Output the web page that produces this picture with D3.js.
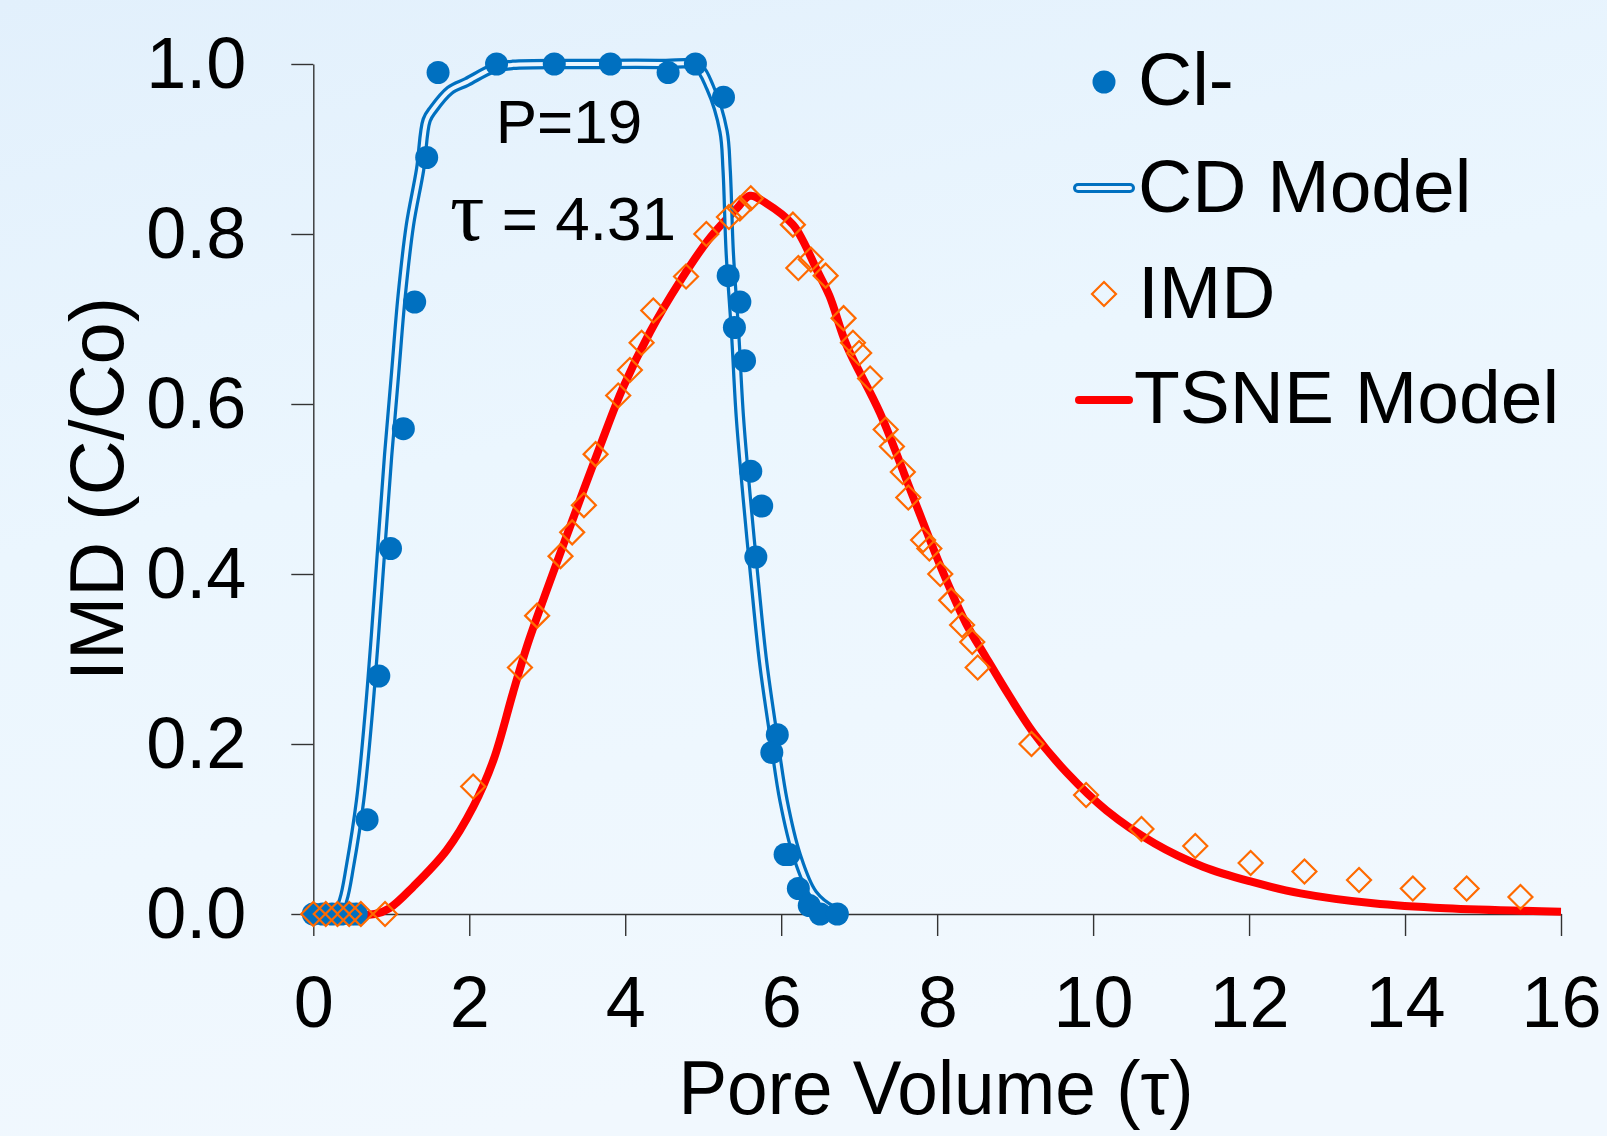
<!DOCTYPE html>
<html>
<head>
<meta charset="utf-8">
<script src="https://cdn.jsdelivr.net/npm/d3@7"></script>
<style>
  html, body { margin: 0; padding: 0; background: #eef7fe; }
  svg { display: block; }
  text { font-family: Arial, "Liberation Sans", sans-serif; fill: #000; }
</style>
</head>
<body>
<div id="chart"></div>
<script>
// Cl- measured concentrations
const clX = [0, 0.12, 0.24, 0.36, 0.48, 0.55, 0.69, 0.84, 0.99, 1.155, 1.30, 1.454, 1.60, 2.35, 3.09, 3.81, 4.55, 4.90,
  5.26, 5.32, 5.47, 5.40, 5.53, 5.61, 5.75, 5.675, 5.95, 5.88, 6.05, 6.10, 6.22, 6.36, 6.50, 6.72];
const clY = [0, 0, 0, 0, 0, 0, 0.111, 0.28, 0.43, 0.571, 0.72, 0.89, 0.99, 1.0, 1.0, 1.0, 0.99, 1.0,
  0.961, 0.751, 0.72, 0.69, 0.651, 0.521, 0.48, 0.42, 0.211, 0.19, 0.07, 0.07, 0.03, 0.01, 0, 0];

// CD model curve
const cdX = [0, 0.30, 0.385, 0.47, 0.60, 0.705, 0.79, 0.877, 0.96, 1.05, 1.133, 1.24, 1.37, 1.454, 1.54, 1.75, 1.97, 2.31, 2.56, 3.5, 4.5, 4.915,
  5.09, 5.26, 5.30, 5.34, 5.41, 5.47, 5.56, 5.66, 5.77, 5.90, 6.03, 6.20, 6.41, 6.67, 6.84];
const cdY = [0, 0, 0.017, 0.056, 0.1335, 0.23, 0.327, 0.437, 0.54, 0.637, 0.727, 0.811, 0.876, 0.934, 0.947, 0.969, 0.979, 0.995, 0.999, 1.0, 1.0, 0.998,
  0.972, 0.921, 0.876, 0.779, 0.682, 0.585, 0.488, 0.392, 0.295, 0.211, 0.1335, 0.069, 0.024, 0.0045, 0];

// IMD measured
const imdX = [0, 0.16, 0.31, 0.46, 0.61, 0.92, 2.05, 2.65, 2.87, 3.17, 3.32, 3.47, 3.62, 3.91, 4.06, 4.21, 4.36, 4.78, 5.04, 5.33, 5.47, 5.61,
  6.15, 6.22, 6.38, 6.57, 6.80, 6.92, 7.00, 7.14, 7.34, 7.42, 7.56, 7.63, 7.82, 7.90, 8.04, 8.18, 8.32, 8.45, 8.52,
  9.21, 9.91, 10.62, 11.31, 12.02, 12.71, 13.41, 14.10, 14.79, 15.48];
const imdY = [0, 0, 0, 0, 0, 0, 0.15, 0.29, 0.351, 0.421, 0.449, 0.481, 0.541, 0.61, 0.64, 0.672, 0.71, 0.75, 0.80, 0.82, 0.83, 0.842,
  0.811, 0.760, 0.770, 0.751, 0.701, 0.672, 0.660, 0.630, 0.570, 0.550, 0.520, 0.490, 0.440, 0.430, 0.400, 0.369, 0.340, 0.320, 0.290,
  0.20, 0.14, 0.10, 0.08, 0.06, 0.05, 0.04, 0.03, 0.03, 0.02];

// TSNE model curve
const tsX = [0, 0.79, 0.98, 1.28, 1.71, 2.05, 2.31, 2.56, 2.74, 2.99, 3.33, 3.68, 3.97, 4.32, 4.70, 5.09, 5.43, 5.60, 5.81, 6.15,
  6.28, 6.45, 6.62, 6.84, 7.27, 7.69, 8.08, 8.37, 8.62, 8.93, 9.24, 9.67, 10.17, 10.79, 11.41, 12.03, 12.66, 13.59, 14.52, 16.0];
const tsY = [0, 0, 0.007, 0.032, 0.075, 0.126, 0.181, 0.26, 0.315, 0.38, 0.465, 0.551, 0.619, 0.685, 0.744, 0.796, 0.830, 0.845, 0.836, 0.811,
  0.792, 0.759, 0.727, 0.669, 0.589, 0.491, 0.401, 0.342, 0.303, 0.256, 0.2126, 0.1655, 0.122, 0.083, 0.0557, 0.038, 0.0243, 0.0126, 0.0067, 0.0027];

const xTicks = [0, 2, 4, 6, 8, 10, 12, 14, 16];
const yTicks = [0, 0.2, 0.4, 0.6, 0.8, 1.0];

const width = 1607, height = 1136;
const blue = "#0070c0", orange = "#ff6a00", red = "#ff0000", inner = "#eaf5fe";

const svg = d3.select("#chart").append("svg")
  .attr("width", width).attr("height", height);

const defs = svg.append("defs");
const grad = defs.append("linearGradient").attr("id", "bg")
  .attr("x1", 0).attr("y1", 0).attr("x2", 0.3).attr("y2", 1);
grad.append("stop").attr("offset", "0%").attr("stop-color", "#e2f0fc");
grad.append("stop").attr("offset", "45%").attr("stop-color", "#ebf6fe");
grad.append("stop").attr("offset", "100%").attr("stop-color", "#f1f8fe");
svg.append("rect").attr("width", width).attr("height", height).attr("fill", "url(#bg)");

const x = d3.scaleLinear().domain([0, 16]).range([313.3, 1561]);
const y = d3.scaleLinear().domain([0, 1]).range([914, 64]);

// axes
const xAxis = svg.append("g").attr("transform", `translate(0,${y(0)})`)
  .call(d3.axisBottom(x).tickValues(xTicks).tickSize(22).tickSizeOuter(0).tickPadding(40).tickFormat(d3.format("d")));
const yAxis = svg.append("g").attr("transform", `translate(${x(0)},0)`)
  .call(d3.axisLeft(y).tickValues(yTicks).tickSize(22).tickSizeOuter(0).tickPadding(45).tickFormat(d3.format(".1f")));
[xAxis, yAxis].forEach(a => {
  a.selectAll("path,line").attr("stroke", "#333").attr("stroke-width", 1.4);
  a.selectAll("text").attr("font-size", 72).attr("font-family", 'Arial, "Liberation Sans", sans-serif').attr("fill", "#000");
});

// axis titles
svg.append("text").attr("x", 936).attr("y", 1114).attr("text-anchor", "middle")
  .attr("font-size", 76).attr("textLength", 515).attr("lengthAdjust", "spacingAndGlyphs")
  .text("Pore Volume (τ)");
svg.append("text").attr("transform", "translate(123,489) rotate(-90)").attr("text-anchor", "middle")
  .attr("font-size", 76).text("IMD (C/Co)");

const lineCR = d3.line().x(d => x(d[0])).y(d => y(d[1])).curve(d3.curveCatmullRom.alpha(0.5));

// TSNE model
svg.append("path").datum(d3.zip(tsX, tsY)).attr("d", lineCR)
  .attr("fill", "none").attr("stroke", red).attr("stroke-width", 8).attr("stroke-linejoin", "round");

// CD model (double line)
const cdData = d3.zip(cdX, cdY);
svg.append("path").datum(cdData).attr("d", lineCR)
  .attr("fill", "none").attr("stroke", blue).attr("stroke-width", 10.5).attr("stroke-linejoin", "round");
svg.append("path").datum(cdData).attr("d", lineCR)
  .attr("fill", "none").attr("stroke", inner).attr("stroke-width", 4).attr("stroke-linejoin", "round");

// Cl- points
svg.append("g").selectAll("circle").data(d3.zip(clX, clY)).join("circle")
  .attr("cx", d => x(d[0])).attr("cy", d => y(d[1])).attr("r", 11.5).attr("fill", blue);

// IMD diamonds
const diamond = (cx, cy, r) => `M${cx},${cy - r}L${cx + r},${cy}L${cx},${cy + r}L${cx - r},${cy}Z`;
svg.append("g").selectAll("path").data(d3.zip(imdX, imdY)).join("path")
  .attr("d", d => diamond(x(d[0]), y(d[1]), 12))
  .attr("fill", "none").attr("stroke", orange).attr("stroke-width", 2.2);

// annotations
svg.append("text").attr("x", 569).attr("y", 143).attr("text-anchor", "middle").attr("font-size", 62).text("P=19");
const tau = svg.append("text").attr("x", 563).attr("y", 240).attr("text-anchor", "middle").attr("font-size", 62);
tau.append("tspan").attr("font-family", '"Liberation Serif", "Times New Roman", serif').attr("font-size", 86).text("τ");
tau.append("tspan").text(" = 4.31");

// legend
const lg = svg.append("g");
lg.append("circle").attr("cx", 1104).attr("cy", 82).attr("r", 11.5).attr("fill", blue);
lg.append("text").attr("x", 1138).attr("y", 105).attr("font-size", 75).text("Cl-");
lg.append("line").attr("x1", 1078).attr("x2", 1130).attr("y1", 188).attr("y2", 188)
  .attr("stroke", blue).attr("stroke-width", 10).attr("stroke-linecap", "round");
lg.append("line").attr("x1", 1078).attr("x2", 1130).attr("y1", 188).attr("y2", 188)
  .attr("stroke", inner).attr("stroke-width", 4).attr("stroke-linecap", "round");
lg.append("text").attr("x", 1138).attr("y", 212).attr("font-size", 75).text("CD Model");
lg.append("path").attr("d", diamond(1104, 294, 12)).attr("fill", "none").attr("stroke", orange).attr("stroke-width", 2.2);
lg.append("text").attr("x", 1138).attr("y", 318).attr("font-size", 75).text("IMD");
lg.append("line").attr("x1", 1079).attr("x2", 1129).attr("y1", 400).attr("y2", 400)
  .attr("stroke", red).attr("stroke-width", 8).attr("stroke-linecap", "round");
lg.append("text").attr("x", 1134).attr("y", 423).attr("font-size", 75).text("TSNE Model");
</script>
</body>
</html>
